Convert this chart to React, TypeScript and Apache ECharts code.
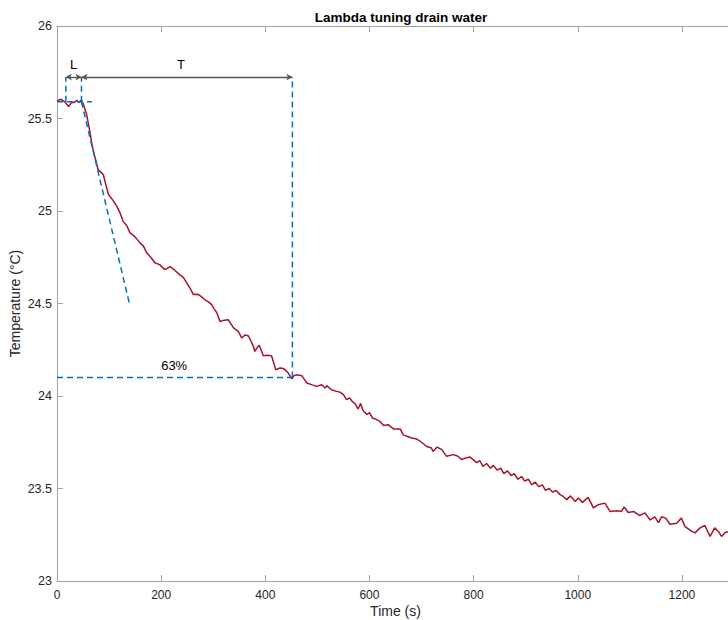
import React, { useEffect, useRef } from "react";
import * as echarts from "echarts";

// Measured drain-water temperature
const timeS = [
  0, 7, 15, 22, 28, 33, 38, 42, 47, 51, 57, 63, 67, 72, 79, 84, 89, 94, 99, 107,
  115, 121, 127, 134, 140, 150, 159, 166, 172, 180, 188, 197, 207, 212, 217, 226,
  236, 243, 249, 256, 262, 270, 276, 284, 290, 297, 302, 307, 313, 321, 329, 334,
  339, 348, 355, 361, 367, 372, 377, 380, 384, 388, 392, 396, 404, 412, 416, 420,
  428, 433, 438, 444, 451, 455, 460, 470, 475, 480, 490, 499, 508, 515, 518, 527,
  537, 544, 550, 556, 562, 567, 572, 578, 583, 588, 595, 600, 606, 612, 620, 627,
  636, 646, 659, 665, 672, 681, 691, 700, 710, 719, 722, 730, 739, 748, 761, 770,
  777, 785, 793, 799, 806, 812, 818, 825, 832, 838, 845, 852, 858, 865, 872, 878,
  885, 892, 898, 905, 912, 918, 925, 932, 938, 945, 952, 958, 966, 972, 979, 986,
  995, 1001, 1009, 1020, 1030, 1039, 1052, 1062, 1075, 1084, 1089, 1097, 1107,
  1119, 1129, 1139, 1148, 1155, 1161, 1169, 1177, 1190, 1199, 1206, 1219, 1225,
  1235, 1244, 1254, 1263, 1270, 1276, 1283, 1290,
];
const tempC = [
  25.592, 25.605, 25.59, 25.565, 25.587, 25.587, 25.598, 25.587, 25.6, 25.574,
  25.52, 25.43, 25.36, 25.3, 25.223, 25.21, 25.196, 25.14, 25.088, 25.06, 25.025,
  24.99, 24.944, 24.92, 24.883, 24.86, 24.829, 24.81, 24.775, 24.75, 24.72, 24.71,
  24.683, 24.69, 24.7, 24.68, 24.655, 24.64, 24.612, 24.58, 24.548, 24.55, 24.54,
  24.52, 24.51, 24.494, 24.47, 24.449, 24.403, 24.41, 24.412, 24.39, 24.368,
  24.349, 24.313, 24.33, 24.326, 24.3, 24.268, 24.241, 24.26, 24.274, 24.25,
  24.218, 24.22, 24.218, 24.18, 24.142, 24.151, 24.15, 24.142, 24.124, 24.093,
  24.11, 24.115, 24.11, 24.09, 24.07, 24.06, 24.052, 24.061, 24.043, 24.056,
  24.034, 24.025, 24.02, 24.007, 23.98, 23.99, 23.97, 23.96, 23.93, 23.96, 23.92,
  23.9, 23.91, 23.88, 23.875, 23.863, 23.84, 23.845, 23.822, 23.822, 23.79,
  23.782, 23.773, 23.767, 23.75, 23.727, 23.719, 23.7, 23.724, 23.71, 23.674,
  23.683, 23.674, 23.656, 23.665, 23.67, 23.656, 23.64, 23.65, 23.62, 23.635,
  23.61, 23.625, 23.6, 23.61, 23.58, 23.595, 23.57, 23.58, 23.55, 23.565, 23.54,
  23.55, 23.52, 23.535, 23.51, 23.52, 23.49, 23.5, 23.48, 23.49, 23.467, 23.457,
  23.44, 23.46, 23.43, 23.449, 23.425, 23.452, 23.395, 23.412, 23.421, 23.376,
  23.38, 23.376, 23.4, 23.37, 23.376, 23.353, 23.368, 23.33, 23.347, 23.315,
  23.347, 23.34, 23.307, 23.312, 23.34, 23.294, 23.268, 23.26, 23.287, 23.3,
  23.241, 23.287, 23.268, 23.241, 23.262, 23.268,
];

// Lambda-tuning construction values
const lagStart = 17; // s
const lagEnd = 47; // s
const tauEnd = 452; // s
const baseTemp = 25.59; // °C
const baseLineEnd = 67; // s
const temp63 = 24.1; // °C
const arrowTemp = 25.724; // °C
const tangentEnd = [139, 24.5];
const labelTemp = 25.79;
const labelTPos = 238;
const label63Pos = [225, 24.165];

const xMin = 0;
const xMax = 1300;
const xStep = 200;
const yMin = 23;
const yMax = 26;
const yStep = 0.5;

const RED = "#A2142F";
const BLUE = "#0072BD";
const AXIS = "#a3a3a3";
const TEXT = "#262626";
const FONT = "'Liberation Sans', Arial, Helvetica, sans-serif";

export default function App() {
  const ref = useRef<HTMLDivElement>(null);
  useEffect(() => {
    document.body.style.margin = "0";
    if (!ref.current) return;
    const chart = echarts.init(ref.current, undefined, { renderer: "svg" });
    const measured = timeS.map((t, i) => [t, tempC[i]]);
    const dashed = (data: number[][]) => ({
      type: "line",
      data,
      symbol: "none",
      silent: true,
      lineStyle: { color: BLUE, width: 1.5, type: [6, 4] },
      z: 3,
    });
    const tickAxis = {
      type: "value",
      min: xMin,
      max: xMax,
      interval: xStep,
      splitLine: { show: false },
      axisLine: { lineStyle: { color: AXIS, width: 1 } },
      axisTick: { inside: true, length: 6, lineStyle: { color: AXIS } },
    };
    chart.setOption({
      animation: false,
      textStyle: { fontFamily: FONT },
      title: {
        text: "Lambda tuning drain water",
        left: 396,
        top: 5,
        textAlign: "center",
        textStyle: { fontSize: 13.5, fontWeight: "bold", color: "#000", fontFamily: FONT },
      },
      grid: {
        left: 57,
        top: 26,
        width: 677,
        height: 555,
        containLabel: false,
        outerBoundsMode: "none",
      },
      xAxis: [
        {
          ...tickAxis,
          position: "bottom",
          name: "Time (s)",
          nameLocation: "middle",
          nameGap: 23,
          nameMoveOverlap: false,
          nameTextStyle: { fontSize: 14, color: TEXT, fontFamily: FONT },
          axisLabel: {
            fontSize: 12,
            color: TEXT,
            margin: 8,
            showMaxLabel: false,
            fontFamily: FONT,
            formatter: (v: number) => String(v),
          },
        },
        {
          ...tickAxis,
          position: "top",
          axisLabel: { show: false },
        },
      ],
      yAxis: {
        type: "value",
        min: yMin,
        max: yMax,
        interval: yStep,
        name: "Temperature (°C)",
        nameLocation: "middle",
        nameGap: 35,
        nameMoveOverlap: false,
        nameTextStyle: { fontSize: 14, color: TEXT, fontFamily: FONT },
        splitLine: { show: false },
        axisLine: { show: true, lineStyle: { color: AXIS, width: 1 } },
        axisTick: { show: true, inside: true, length: 6, lineStyle: { color: AXIS } },
        axisLabel: { fontSize: 12.5, color: TEXT, margin: 5, fontFamily: FONT, formatter: (v: number) => String(v) },
      },
      series: [
        {
          type: "line",
          data: measured,
          symbol: "none",
          lineStyle: { color: RED, width: 1.5 },
          z: 2,
        },
        dashed([
          [xMin, baseTemp],
          [baseLineEnd, baseTemp],
        ]),
        dashed([
          [lagStart, baseTemp],
          [lagStart, arrowTemp],
        ]),
        dashed([
          [lagEnd, baseTemp],
          [lagEnd, arrowTemp],
        ]),
        dashed([[lagEnd, baseTemp], tangentEnd]),
        dashed([
          [tauEnd, temp63],
          [tauEnd, arrowTemp],
        ]),
        dashed([
          [xMin, temp63],
          [tauEnd, temp63],
        ]),
        {
          type: "line",
          data: [],
          silent: true,
          z: 4,
          markLine: {
            silent: true,
            symbol: ["arrow", "arrow"],
            symbolSize: [5, 6],
            label: { show: false },
            lineStyle: { color: "#555", width: 1.3, type: "solid" },
            data: [
              [{ coord: [lagStart, arrowTemp] }, { coord: [lagEnd, arrowTemp] }],
              [{ coord: [lagEnd, arrowTemp] }, { coord: [tauEnd, arrowTemp] }],
            ],
          },
          markPoint: {
            silent: true,
            symbol: "circle",
            symbolSize: 0,
            label: { show: true, color: "#000", fontSize: 13, fontFamily: FONT },
            data: [
              { coord: [(lagStart + lagEnd) / 2, labelTemp], label: { formatter: "L" } },
              { coord: [labelTPos, labelTemp], label: { formatter: "T" } },
              { coord: label63Pos, label: { formatter: "63%" } },
            ],
          },
        },
      ],
    });
    return () => chart.dispose();
  }, []);
  return <div ref={ref} style={{ width: 728, height: 620 }} />;
}
